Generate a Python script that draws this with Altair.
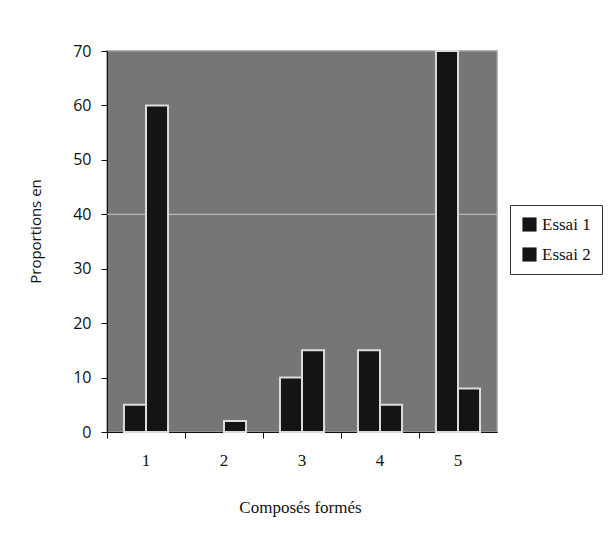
import altair as alt
import pandas as pd

categories = ["1", "2", "3", "4", "5"]
series = ["Essai 1", "Essai 2"]
essai1 = [5, 0, 10, 15, 70]
essai2 = [60, 2, 15, 5, 8]
y_ticks = [0, 10, 20, 30, 40, 50, 60, 70]
grid_value = [40]

rows = []
for c, a, b in zip(categories, essai1, essai2):
    rows.append({"cat": c, "serie": series[0], "val": a})
    rows.append({"cat": c, "serie": series[1], "val": b})
df = pd.DataFrame(rows)
grid_df = pd.DataFrame({"g": grid_value})

W, H = 390, 381
SERIF = "Liberation Serif"
SANS = "Open Sans"

grid = alt.Chart(grid_df).mark_rule(color="#cfcfcf", strokeWidth=1.2, opacity=0.75).encode(
    y=alt.Y("g:Q")
)

bars = alt.Chart(df).mark_bar(stroke="#dcdcdc", strokeWidth=2).encode(
    x=alt.X(
        "cat:N",
        sort=categories,
        scale=alt.Scale(paddingInner=0, paddingOuter=0),
        axis=alt.Axis(
            title="Composés formés",
            titleFont=SERIF, titleFontSize=17, titleFontWeight="normal", titleColor="#111",
            titleX=193, titleY=75, titleBaseline="middle",
            labelAngle=0, labelFont=SERIF, labelFontSize=17, labelColor="#111",
            labelPadding=14, bandPosition=0,
            tickSize=6, tickColor="#111", domainColor="#111", grid=False,
        ),
    ),
    xOffset=alt.XOffset("serie:N", sort=series, scale=alt.Scale(paddingOuter=0.77, paddingInner=0)),
    y=alt.Y(
        "val:Q",
        scale=alt.Scale(domain=[0, 70], nice=False),
        axis=alt.Axis(
            title="Proportions en",
            titleFont=SANS, titleFontSize=15, titleFontWeight="normal", titleColor="#111",
            titleX=-72, titleY=180, titleBaseline="middle", titleAlign="center",
            values=y_ticks, labelFont=SANS, labelFontSize=16, labelColor="#111",
            labelPadding=10, tickSize=6, tickColor="#111", domainColor="#111", grid=False,
        ),
    ),
    color=alt.Color(
        "serie:N",
        sort=series,
        scale=alt.Scale(domain=series, range=["#141414", "#141414"]),
        legend=alt.Legend(
            title=None, orient="none", legendX=403, legendY=154,
            symbolType="square", symbolSize=200, symbolStrokeWidth=0,
            labelFont=SERIF, labelFontSize=17, labelColor="#111",
            strokeColor="#333", fillColor="white", padding=11, rowPadding=12,
        ),
    ),
).transform_filter(alt.datum.val > 0)

chart = (
    alt.layer(grid, bars)
    .properties(
        width=W, height=H,
        autosize=alt.AutoSizeParams(type="none"),
        padding={"left": 107, "top": 51, "right": 118, "bottom": 107},
    )
    .configure(background="white", view=alt.ViewConfig(fill="#767676", stroke="#9a9a9a", strokeWidth=1.5))
)

chart.save("out.html", embed_options={"renderer": "svg", "actions": False})
